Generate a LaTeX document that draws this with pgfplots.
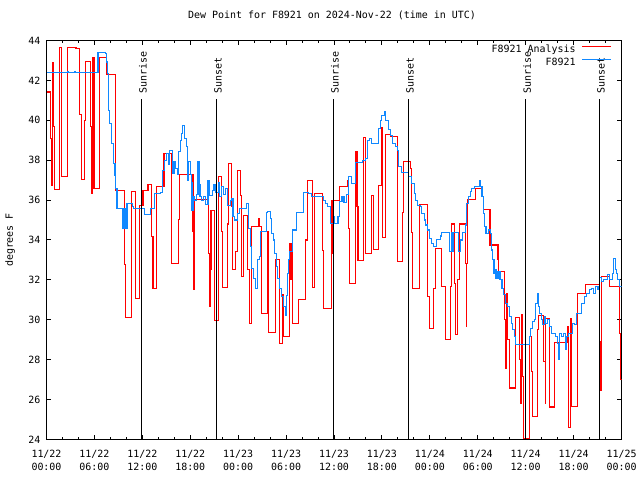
\documentclass[border=0pt]{standalone}
\usepackage{fontspec}
\setmainfont{DejaVu Sans Mono}
\usepackage{pgfplots}
\pgfplotsset{compat=1.18}
\usepackage{pgfplotstable}
\definecolor{obsblue}{RGB}{16,136,255}

% hours since 11/22 00:00 UTC, dew point in F
\pgfplotstableread{
h v
0.00 41.42
0.45 39.08
0.60 36.72
0.70 42.88
0.92 39.70
1.04 36.55
1.68 43.63
1.84 37.20
2.68 43.63
3.70 43.58
4.17 40.30
4.33 37.03
4.71 40.00
4.84 42.93
5.55 39.67
5.66 36.33
5.73 40.00
5.82 43.13
5.95 36.60
6.65 43.13
7.50 42.30
8.67 36.47
9.78 32.75
9.92 30.10
10.67 36.42
11.17 31.08
11.67 35.75
12.08 36.50
12.71 36.80
13.17 34.17
13.33 31.58
13.75 36.70
14.71 38.33
15.67 32.83
16.58 35.03
16.67 37.30
18.35 34.42
18.47 31.50
18.55 36.03
20.30 33.33
20.39 30.67
20.50 32.50
20.60 35.50
21.02 29.95
21.55 37.20
21.89 34.42
22.05 31.63
22.64 34.80
22.80 37.83
23.14 35.67
23.30 32.50
23.64 33.42
23.89 36.67
23.97 37.50
24.30 36.25
24.47 32.17
24.72 35.25
25.22 32.50
25.39 29.83
25.64 34.67
26.60 35.10
26.68 34.67
26.89 30.30
27.64 34.42
27.80 29.37
28.64 33.03
29.14 28.80
29.55 31.25
29.72 29.17
30.47 33.83
30.60 32.00
30.72 33.83
30.80 29.80
31.55 31.00
32.39 34.00
32.64 37.00
33.30 31.63
33.55 36.33
34.55 33.47
34.64 30.58
35.72 36.00
35.80 33.33
35.92 36.00
36.67 36.67
37.67 37.00
37.83 34.58
37.92 31.80
38.67 38.42
38.88 35.67
39.00 32.97
39.71 39.13
39.92 33.33
40.67 36.25
40.92 33.53
41.58 36.75
41.92 39.63
42.12 34.13
42.50 39.30
43.04 39.17
43.92 32.92
44.58 35.37
44.67 37.92
45.58 37.58
45.67 34.37
45.83 31.58
46.67 35.78
47.75 31.17
47.92 29.58
48.50 31.58
48.75 33.58
49.42 31.67
49.92 29.00
50.54 31.67
50.75 34.80
51.08 31.83
51.17 29.25
51.50 32.00
51.67 34.80
52.50 32.83
52.55 29.67
52.62 32.83
52.67 36.03
53.67 36.58
54.53 36.17
54.70 35.53
55.53 33.75
56.53 33.05
56.62 32.42
57.36 30.00
57.45 27.58
57.61 31.30
57.78 29.00
57.95 26.58
58.70 30.13
59.20 28.00
59.36 25.83
59.45 30.25
59.61 27.17
59.70 24.03
60.53 29.17
60.70 27.42
60.86 25.17
61.53 29.50
61.61 30.20
62.28 27.92
62.45 25.83
62.53 30.08
63.03 25.63
63.61 28.87
65.28 29.67
65.36 24.58
65.61 30.08
65.78 25.67
66.45 30.25
66.53 31.30
67.53 31.78
69.20 28.92
69.36 26.47
69.53 32.17
70.53 31.67
71.70 29.30
71.85 27.00
72.00 27.00
}\analysis

\pgfplotstableread{
h v
0.00 42.38
2.60 42.42
2.75 42.38
3.50 42.42
3.62 42.38
6.25 42.40
6.45 43.42
7.40 43.33
7.50 42.92
7.63 42.33
7.71 40.50
7.92 39.83
8.17 38.83
8.42 37.83
8.58 37.25
8.67 36.58
8.83 35.58
9.50 34.58
9.60 35.58
9.75 34.58
9.85 35.58
9.95 34.58
10.08 35.83
10.75 35.70
10.92 35.58
12.29 35.30
13.00 35.58
13.54 36.33
14.25 36.40
14.50 37.50
14.79 38.00
15.08 38.33
15.30 37.80
15.42 38.50
15.75 37.33
15.96 37.92
16.17 37.60
16.46 37.30
16.58 38.42
16.75 39.00
16.88 39.33
17.08 39.75
17.29 39.08
17.50 38.67
17.71 37.00
17.83 37.92
18.00 37.30
18.14 36.90
18.22 35.50
18.40 36.20
18.55 36.00
18.80 36.30
18.97 37.92
19.10 36.80
19.22 36.17
19.39 36.00
19.70 36.20
19.90 35.80
20.22 37.00
20.39 36.25
20.80 36.50
20.97 36.80
21.22 36.40
21.50 36.90
21.70 36.20
21.89 36.70
22.20 36.30
22.40 36.60
22.64 35.75
23.05 36.00
23.22 36.10
23.35 35.17
23.55 35.00
23.89 35.33
24.18 35.58
25.01 35.83
25.30 34.58
25.55 33.67
25.72 32.58
25.97 32.08
26.22 31.58
26.39 33.00
26.64 33.17
26.80 34.42
27.51 35.37
27.72 35.42
28.05 35.10
28.22 34.33
28.39 34.00
28.55 33.33
28.80 32.67
28.97 32.08
29.22 31.58
29.47 31.17
29.72 30.67
29.89 30.20
30.01 31.20
30.14 32.33
30.30 33.00
30.47 33.42
30.80 34.50
31.30 35.37
32.22 36.37
32.80 36.33
33.22 36.17
34.72 36.00
34.89 35.83
35.22 35.67
35.55 34.83
35.95 35.20
36.10 34.83
36.50 35.17
36.67 35.92
37.00 36.17
37.25 35.90
37.62 36.30
37.83 37.17
38.17 36.83
38.67 37.87
39.60 38.00
39.92 38.08
40.17 38.83
40.25 39.00
40.42 39.10
40.67 38.83
41.58 39.58
41.79 40.00
42.00 40.25
42.33 40.42
42.50 40.00
42.83 39.53
43.04 39.25
43.33 38.83
43.67 38.67
43.92 38.50
44.08 37.67
44.42 37.37
45.33 37.17
45.75 36.83
46.08 36.33
46.25 36.00
46.50 35.75
46.79 35.67
47.00 35.33
47.33 35.00
47.50 34.75
47.67 34.50
47.92 34.08
48.17 33.83
48.46 33.67
48.88 34.03
49.29 34.20
49.50 34.37
50.42 33.42
50.67 34.37
50.83 33.42
51.00 34.37
51.58 33.42
51.79 34.00
52.08 34.37
52.42 34.75
52.62 35.83
52.83 36.17
53.04 36.42
53.25 36.58
53.58 36.67
54.20 36.97
54.36 36.67
54.53 36.17
54.70 35.33
54.86 34.67
55.03 34.33
55.36 34.50
55.61 34.33
55.70 33.50
55.86 33.00
56.03 32.33
56.11 32.50
56.28 32.08
56.53 32.42
56.78 32.00
57.03 31.58
57.28 31.25
57.53 30.83
57.74 30.67
57.95 30.17
58.20 29.83
58.36 29.50
58.61 29.17
58.78 28.75
60.45 29.17
60.66 29.58
60.86 29.92
61.07 30.00
61.28 30.83
61.49 31.33
61.61 30.67
61.78 30.33
61.95 30.00
62.11 29.75
62.32 30.17
62.53 29.83
62.70 30.00
62.95 29.67
63.20 29.33
63.45 29.33
63.70 29.17
63.95 28.83
64.11 28.00
64.28 29.33
64.53 29.17
64.78 29.33
64.95 28.50
65.11 29.17
65.36 29.33
65.61 29.33
65.86 29.83
66.11 29.75
66.36 30.33
66.70 30.33
67.03 30.83
67.36 31.17
67.61 31.33
68.03 31.50
68.28 31.58
68.53 31.33
68.78 31.67
68.95 31.53
69.11 31.67
69.28 32.13
69.53 31.92
69.78 32.00
70.24 32.25
70.45 32.00
70.86 32.33
71.03 33.08
71.20 32.50
71.36 32.33
71.53 32.00
71.70 31.67
72.00 31.67
}\station

\begin{document}
\begin{tikzpicture}
\path[use as bounding box] (0,0) rectangle (640bp,480bp);
\begin{axis}[
  at={(46.5bp,40.5bp)}, anchor=south west,
  width=575bp, height=399bp, scale only axis,
  xmin=0, xmax=72, ymin=24, ymax=44,
  xtick={0,6,...,72}, minor x tick num=2,
  ytick={24,26,...,44},
  xticklabels={{11/22\\00:00},{11/22\\06:00},{11/22\\12:00},{11/22\\18:00},
    {11/23\\00:00},{11/23\\06:00},{11/23\\12:00},{11/23\\18:00},
    {11/24\\00:00},{11/24\\06:00},{11/24\\12:00},{11/24\\18:00},{11/25\\00:00}},
  xticklabel style={align=center, font=\fontsize{10}{13}\selectfont, inner sep=0pt, yshift=-10bp},
  yticklabel style={inner sep=0pt, xshift=-6bp},
  /pgf/number format/assume math mode=true,
  tick align=inside, major tick length=4.5bp, minor tick length=2.5bp,
  tick style={black, line width=1bp},
  axis line style={line width=1bp},
  title={Dew Point for F8921 on 2024-Nov-22 (time in UTC)},
  title style={at={(axis description cs:0.4965,1)}, anchor=base, yshift=16bp, inner sep=0pt},
  ylabel={degrees F},
  ylabel style={at={(axis description cs:-0.0583,0.5)}, anchor=base, inner sep=0pt},
  legend style={draw=none, fill=none, at={(axis description cs:1,1)}, anchor=north east,
    xshift=-9.5bp, yshift=-3bp, inner sep=0pt, row sep=0pt, column sep=4bp,
    nodes={inner sep=2bp, text height=7bp, text depth=2bp}},
  legend cell align=right, legend plot pos=right,
  legend image code/.code={\draw[#1] (0bp,3.5bp) -- (29bp,3.5bp);},
]
\addplot[const plot, red, line width=1.1bp] table[x=h, y=v] {\analysis};
\addlegendentry{F8921 Analysis}
\addplot[const plot, obsblue, line width=1.1bp] table[x=h, y=v] {\station};
\addlegendentry{F8921}

\addplot[black, line width=1bp, forget plot] coordinates {(11.87,24) (11.87,41.05)};
\addplot[black, line width=1bp, forget plot] coordinates {(21.26,24) (21.26,41.05)};
\addplot[black, line width=1bp, forget plot] coordinates {(35.91,24) (35.91,41.05)};
\addplot[black, line width=1bp, forget plot] coordinates {(45.30,24) (45.30,41.05)};
\addplot[black, line width=1bp, forget plot] coordinates {(59.96,24) (59.96,41.05)};
\addplot[black, line width=1bp, forget plot] coordinates {(69.22,24) (69.22,41.05)};

\node[rotate=90, anchor=base west, inner sep=0pt] at ([xshift=5.4bp]axis cs:11.87,41.35) {Sunrise};
\node[rotate=90, anchor=base west, inner sep=0pt] at ([xshift=5.4bp]axis cs:21.26,41.35) {Sunset};
\node[rotate=90, anchor=base west, inner sep=0pt] at ([xshift=5.4bp]axis cs:35.91,41.35) {Sunrise};
\node[rotate=90, anchor=base west, inner sep=0pt] at ([xshift=5.4bp]axis cs:45.30,41.35) {Sunset};
\node[rotate=90, anchor=base west, inner sep=0pt] at ([xshift=5.4bp]axis cs:59.96,41.35) {Sunrise};
\node[rotate=90, anchor=base west, inner sep=0pt] at ([xshift=5.4bp]axis cs:69.22,41.35) {Sunset};
\end{axis}
\end{tikzpicture}
\end{document}
